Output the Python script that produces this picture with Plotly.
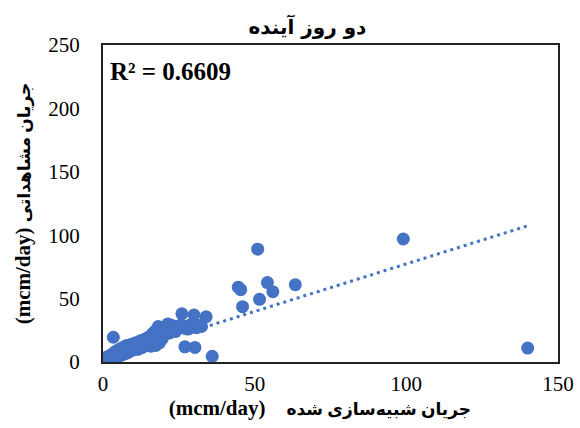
import numpy as np
import plotly.graph_objects as go

# simulated flow (x) and observed flow (y), mcm/day
sim_flow = [
    0.1, 0.2, 0.3, 0.4, 0.5, 0.6, 0.7, 0.8, 0.9, 1.0,
    1.1, 1.2, 1.3, 1.4, 1.5, 1.6, 1.7, 1.8, 1.9, 2.0,
    2.1, 2.2, 2.3, 2.4, 2.5, 2.6, 2.7, 2.8, 2.9, 3.0,
    0.15, 0.25, 0.35, 0.45, 0.55, 0.65, 0.75, 0.85, 0.95, 1.05,
    1.15, 1.25, 1.35, 1.45, 1.55, 1.65, 1.75, 1.85, 1.95, 2.05,
    2.15, 2.25, 2.35, 2.45, 2.55, 2.65, 2.75, 2.85, 2.95, 3.05,
    0.2, 0.4, 0.6, 0.8, 1.0, 1.2, 1.4, 1.6, 1.8, 2.0,
    2.2, 2.4, 2.6, 2.8, 3.0, 3.2, 3.4, 3.6, 3.8, 4.0,
    0.1, 0.3, 0.5, 0.7, 0.9, 1.1, 1.3, 1.5, 1.7, 1.9,
    2.1, 2.3, 2.5, 2.7, 2.9, 3.1, 3.3, 3.5, 3.7, 3.9,
    0.05, 0.35, 0.65, 0.95, 1.25, 1.55, 1.85, 2.15, 2.45, 2.75,
    0.25, 0.55, 0.85, 1.15, 1.45, 1.75, 2.05, 2.35, 2.65, 2.95,
    0.4, 0.9, 1.4, 1.9, 2.4, 2.9, 3.4, 3.9, 4.4, 4.9,
    0.1, 0.1, 0.2, 0.2, 0.3, 0.3, 0.4, 0.4, 0.5, 0.5, 0.6, 0.6, 0.7, 0.7, 0.8, 0.8, 0.9, 0.9, 1.0, 1.0,
    1.1, 1.1, 1.2, 1.2, 1.3, 1.4, 1.4, 1.5, 1.5, 1.6, 1.7, 1.7, 1.8, 1.8, 1.9, 1.9, 2.0, 2.0, 2.1, 2.1,
    2.2, 2.2, 2.3, 2.4, 2.4, 2.5, 2.5, 2.6, 2.6, 2.7, 2.8, 2.8, 2.9, 2.9, 3.0, 3.0, 3.1, 3.1, 3.2, 3.3,
    3.3, 3.4, 3.4, 3.5, 3.6, 3.6, 3.7, 3.7, 3.8, 3.8, 3.9, 3.9, 4.0, 4.0, 4.1,
    4.2, 4.2, 4.3, 4.4, 4.4, 4.5, 4.6, 4.6, 4.7, 4.8, 4.9, 4.9, 5.0, 5.1, 5.1, 5.2, 5.3, 5.4, 5.4, 5.5,
    5.6, 5.6, 5.7, 5.8, 5.9, 6.0, 6.0, 6.1, 6.2, 6.3, 6.4, 6.5, 6.6, 6.7, 6.8,
    7.0, 7.1, 7.2, 7.3, 7.4, 7.5, 7.6, 7.7, 7.8, 7.9, 8.0, 8.1, 8.2, 8.3, 8.4, 8.5, 8.6, 8.7, 8.8, 8.9,
    9.0, 9.2, 9.4, 9.6, 9.8,
    10.0, 10.3, 10.6, 10.9, 11.2, 11.5, 11.8, 12.1, 12.4, 12.7, 13.0, 13.4, 13.8, 14.2, 14.6,
    0, 0.3, 0.6, 1, 1.3, 1.6, 2, 2.3, 2.7, 3, 3.4, 3.5, 4, 4.3, 4.7,
    5, 5.4, 5.8, 6.2, 6.6, 7, 7.4, 7.8, 8.2, 8.6, 9, 9.4, 9.8,
    10.2, 10.6, 11, 11.4, 11.8, 12.2, 12.6, 13, 13.4, 13.8, 14.2, 14.6,
    15, 15.4, 15.8, 16.2, 16.6, 17, 17.4, 17.8, 18.2, 18.6, 19, 19.4, 19.8,
    20.2, 20.6, 21, 21.4, 21.8, 22.2, 22.6, 23, 23.4, 23.8, 24.2, 24.6,
    25, 25.5, 26, 26.5, 27, 27.3, 28, 28.5, 29, 29.5, 30, 30.3, 30.8, 31.5, 32.5, 34, 36,
    44.6, 45.4, 46, 51, 51.6, 54.2, 56, 63.4, 99, 140,
]
obs_flow = [
    0.3, 0.5, 0.2, 0.6, 0.4, 0.9, 0.5, 0.7, 1.1, 0.8,
    0.9, 1.4, 1.0, 1.2, 1.7, 1.1, 1.5, 1.3, 2.0, 1.6,
    1.8, 1.4, 2.2, 1.9, 1.6, 2.4, 2.0, 1.8, 2.7, 2.3,
    0.6, 0.3, 0.8, 0.4, 0.7, 0.5, 1.0, 0.6, 0.9, 1.3,
    0.8, 1.1, 1.6, 1.0, 1.3, 1.9, 1.2, 1.6, 1.4, 2.1,
    1.5, 2.0, 1.7, 2.5, 1.9, 2.2, 2.8, 2.1, 2.4, 2.6,
    0.4, 0.7, 0.5, 1.0, 0.9, 0.8, 1.3, 1.2, 1.5, 1.4,
    2.0, 1.8, 2.3, 2.1, 2.6, 2.4, 2.9, 2.7, 3.2, 3.0,
    0.5, 0.4, 0.8, 0.6, 1.2, 0.9, 1.1, 1.4, 1.3, 1.8,
    1.6, 2.1, 1.9, 2.4, 2.2, 2.7, 2.5, 3.0, 2.8, 3.3,
    0.6, 0.3, 0.9, 0.7, 1.0, 1.3, 1.5, 1.7, 2.0, 2.2,
    0.4, 0.6, 0.8, 1.2, 1.1, 1.5, 1.7, 1.9, 2.3, 2.5,
    0.7, 1.1, 1.5, 1.8, 2.2, 2.6, 3.1, 3.4, 3.9, 4.3,
    0.8, 1.5, 0.4, 2.2, 1.1, 0.6, 1.8, 2.9, 0.9, 1.4, 2.4, 0.7, 1.2, 3.1, 1.9, 0.5, 2.6, 1.3, 0.8, 2.1,
    1.6, 3.4, 2.7, 1.0, 2.2, 3.8, 1.4, 2.9, 1.8, 2.5, 1.2, 3.3, 2.0, 4.1, 1.6, 2.8, 3.6, 1.4, 2.3, 4.4,
    1.9, 3.1, 2.6, 4.0, 1.7, 2.9, 4.8, 2.2, 3.5, 5.2, 2.5, 3.9, 3.0, 4.6, 2.3, 3.7, 5.4, 2.8, 4.2, 3.2,
    5.9, 2.6, 4.5, 3.6, 5.1, 2.9, 4.0, 6.3, 3.3, 5.0, 4.4, 6.8, 3.4, 5.6, 4.7,
    6.4, 3.8, 5.1, 7.2, 4.2, 5.8, 3.9, 6.9, 4.8, 6.2, 4.3, 7.6, 5.4, 6.7, 4.6, 8.1, 5.9, 4.9, 7.3, 6.1,
    8.6, 5.2, 6.8, 5.5, 7.9, 6.4, 9.2, 5.6, 7.5, 6.0, 8.8, 6.6, 5.9, 7.8, 9.6,
    6.5, 8.4, 10.2, 7.1, 11.0, 8.0, 6.9, 9.3, 7.6, 10.6, 8.7, 7.3, 11.4, 9.0, 7.9, 10.1, 12.3, 8.4, 9.7, 11.8,
    8.8, 10.9, 9.4, 12.6, 10.3,
    9.6, 12.1, 10.4, 13.5, 11.3, 10.0, 13.9, 11.7, 14.6, 12.5, 15.3, 13.0, 14.4, 16.2, 14.8,
    0.5, 2, 1, 3, 1.5, 4, 2.5, 5, 3.5, 6, 19.5, 4, 8, 5.5, 9,
    6, 10, 7, 11, 8, 12, 9, 13, 8.5, 12, 10, 14, 11,
    13, 15, 10.5, 14, 16, 12, 17, 11.5, 15, 18, 13, 19,
    14, 20, 12.5, 22, 17, 24, 13, 20, 28, 15, 22, 18, 26,
    21, 28, 24, 30, 23, 27, 29, 25, 27, 24, 28, 26,
    27, 29, 38, 27, 12, 28, 26, 29, 27, 28, 37, 11.5, 27, 29, 28, 35.7, 4.5,
    59, 57, 43.6, 89, 49.4, 62.6, 55.5, 61, 97, 11,
]

x_ticks = [0, 50, 100, 150]
y_ticks = [0, 50, 100, 150, 200, 250]

title_text = "دو روز آینده"
unit_text = "(mcm/day)"
x_title_fa = "جریان شبیه‌سازی شده"
y_title_fa = "جریان مشاهداتی"
r2_text = "R² = 0.6609"

x = np.array(sim_flow, dtype=float)
y = np.array(obs_flow, dtype=float)
slope, intercept = np.polyfit(x, y, 1)
trend_x = np.array([x.min(), x.max()])
trend_y = slope * trend_x + intercept

blue = "#4472C4"
serif = "Liberation Serif, Times New Roman, DejaVu Sans, serif"

fig = go.Figure()
fig.add_trace(go.Scatter(
    x=x, y=y, mode="markers",
    marker=dict(color=blue, size=13, line=dict(width=0)),
    showlegend=False, hoverinfo="skip",
))
fig.add_trace(go.Scatter(
    x=trend_x, y=trend_y, mode="lines",
    line=dict(color=blue, width=3, dash="3px,4px"),
    showlegend=False, hoverinfo="skip",
))

x_title_html = ("<b>" + unit_text + "\u00a0\u00a0\u00a0\u00a0"
                "<span style='font-size:17px'>" + x_title_fa +
                "\u00a0\u00a0\u00a0\u00a0\u00a0</span></b>")
y_title_html = ("<b>" + unit_text + "\u00a0"
                "<span style='font-size:17px'>" + y_title_fa + "</span></b>")

fig.update_layout(
    width=580, height=428,
    margin=dict(l=103, r=22, t=45, b=66),
    paper_bgcolor="white", plot_bgcolor="white",
    font=dict(family=serif, size=21, color="black"),
    title=dict(text="<b>" + title_text + "</b>", x=0.53, xanchor="center",
               y=0.937, yanchor="middle",
               font=dict(family="DejaVu Sans, serif", size=20, color="black")),
    annotations=[
        dict(text="<b>" + r2_text + "</b>", xref="paper", yref="paper",
             x=0.012, y=0.915, xanchor="left", yanchor="middle",
             showarrow=False, font=dict(family=serif, size=25, color="black")),
    ],
)
fig.update_xaxes(
    range=[0, 150], tickvals=x_ticks, showgrid=False, zeroline=False, automargin=False,
    showline=True, mirror=True, linecolor="#222", linewidth=2,
    ticks="", ticklabelstandoff=2,
    title=dict(text=x_title_html, standoff=0,
               font=dict(family=serif, size=21)),
)
fig.update_yaxes(
    range=[0, 250], tickvals=y_ticks, showgrid=False, zeroline=False, automargin=False,
    showline=True, mirror=True, linecolor="#222", linewidth=2,
    ticks="", ticklabelstandoff=17,
    title=dict(text=y_title_html, standoff=12,
               font=dict(family=serif, size=21)),
)

fig.write_html("out.html", config={"displayModeBar": False},
               post_script="document.body.style.margin='0px';")
